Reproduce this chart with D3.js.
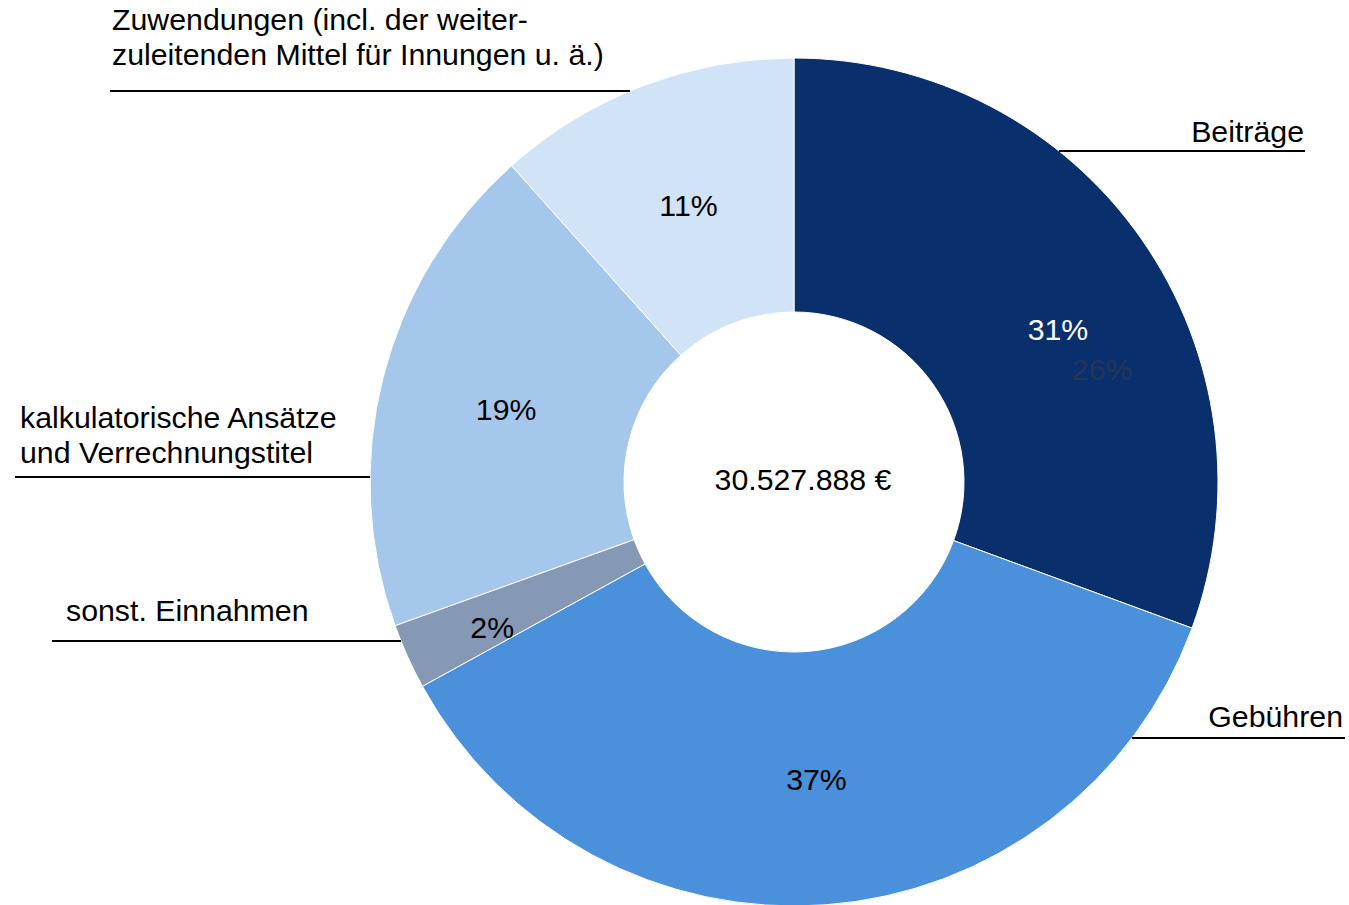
<!DOCTYPE html>
<html>
<head>
<meta charset="utf-8">
<script src="https://cdn.jsdelivr.net/npm/d3@7"></script>
<style>
  body { margin: 0; background: #fff; }
  text { font-family: "Liberation Sans", Arial, sans-serif; }
</style>
</head>
<body>
<script>
var categories = ["Beiträge", "Gebühren", "sonst. Einnahmen", "kalkulatorische Ansätze und Verrechnungstitel", "Zuwendungen (incl. der weiterzuleitenden Mittel für Innungen u. ä.)"];
var values = [30.6, 36.4, 2.5, 18.9, 11.6];
var pctLabels = ["31%", "37%", "2%", "19%", "11%"];
var colors = ["#0a2f6d", "#4a90da", "#8599b6", "#a5c7ec", "#d1e3f6"];
var total = "30.527.888 €";

// label text lines, one array per slice
var labelLines = [
  ["Beiträge"],
  ["Gebühren"],
  ["sonst. Einnahmen"],
  ["kalkulatorische Ansätze", "und Verrechnungstitel"],
  ["Zuwendungen (incl. der weiter-", "zuleitenden Mittel für Innungen u. ä.)"]
];

var width = 1349, height = 905,
  cx = 794, cy = 482,
  outerR = 424, innerR = 170,
  fs = 30.3;

var svg = d3.select("body").append("svg")
  .attr("width", width)
  .attr("height", height);

var g = svg.append("g").attr("transform", "translate(" + cx + "," + cy + ")");

var pie = d3.pie().sort(null).value(function(d) { return d; });
var arcs = pie(values);

var arc = d3.arc().innerRadius(innerR).outerRadius(outerR);

g.selectAll(".slice")
  .data(arcs)
  .enter().append("path")
  .attr("class", "slice")
  .attr("d", arc)
  .attr("fill", function(d, i) { return colors[i]; })
  .attr("stroke", "#fff")
  .attr("stroke-width", 1);

// percentage labels (radius / angle nudges per slice)
var pctR = [305, 298, 335, 297, 296];
var pctNudge = [0.085, 0, -0.025, 0, 0];
g.selectAll(".pct")
  .data(arcs)
  .enter().append("text")
  .attr("class", "pct")
  .attr("x", function(d, i) { return pctR[i] * Math.sin((d.startAngle + d.endAngle) / 2 + pctNudge[i]); })
  .attr("y", function(d, i) { return -pctR[i] * Math.cos((d.startAngle + d.endAngle) / 2 + pctNudge[i]); })
  .attr("dy", "0.35em")
  .attr("text-anchor", "middle")
  .attr("font-size", fs)
  .attr("fill", function(d, i) { return i === 0 ? "#fff" : "#000"; })
  .text(function(d, i) { return pctLabels[i]; });

// leftover ghost label on the dark slice
var ghostA = arcs[0].startAngle + (arcs[0].endAngle - arcs[0].startAngle) * 0.635;
g.append("text")
  .attr("x", 328 * Math.sin(ghostA))
  .attr("y", -328 * Math.cos(ghostA))
  .attr("dy", "0.35em")
  .attr("text-anchor", "middle")
  .attr("font-size", fs)
  .attr("fill", "#22365c")
  .text("26%");

// center total
g.append("text")
  .attr("x", 9)
  .attr("y", -3)
  .attr("dy", "0.35em")
  .attr("text-anchor", "middle")
  .attr("font-size", fs)
  .attr("fill", "#000")
  .text(total);

// leader lines + category labels
var lineY = [151, 738, 641, 477, 91];
var lineEnd = [1305, 1345, 52, 15, 110];
var textX = [1304, 1343, 66, 20, 112];
var firstBase = [142, 727, 621, 428, 30];
var lineH = 34.5;

labelLines.forEach(function(lines, i) {
  var dy = lineY[i] - cy;
  var edge = Math.sqrt(outerR * outerR - dy * dy);
  var right = lineEnd[i] > cx;
  var x0 = right ? cx + edge : cx - edge;
  svg.append("line")
    .attr("x1", x0)
    .attr("x2", lineEnd[i])
    .attr("y1", lineY[i])
    .attr("y2", lineY[i])
    .attr("stroke", "#000")
    .attr("stroke-width", 2);
  lines.forEach(function(t, j) {
    svg.append("text")
      .attr("x", textX[i])
      .attr("y", firstBase[i] + j * lineH)
      .attr("text-anchor", right ? "end" : "start")
      .attr("font-size", fs)
      .attr("fill", "#000")
      .text(t);
  });
});
</script>
</body>
</html>
